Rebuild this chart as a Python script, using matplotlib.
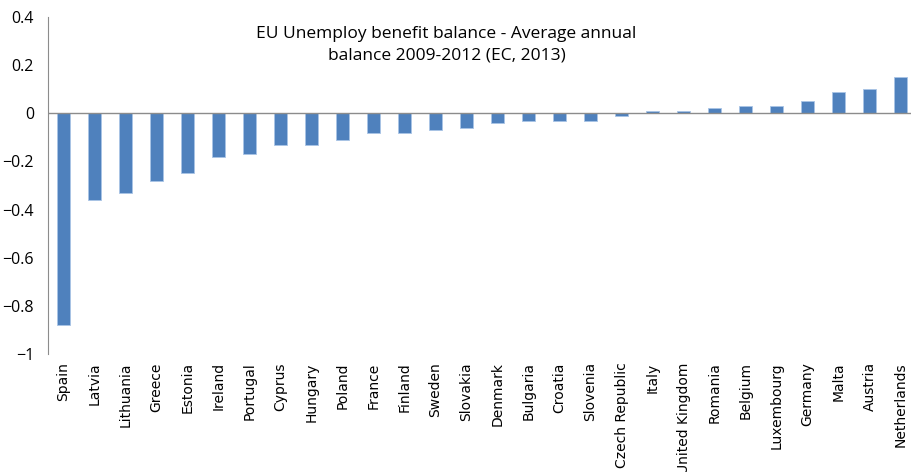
import matplotlib.pyplot as plt
import numpy as np

countries = ['Spain', 'Latvia', 'Lithuania', 'Greece', 'Estonia', 'Ireland', 'Portugal',
             'Cyprus', 'Hungary', 'Poland', 'France', 'Finland', 'Sweden', 'Slovakia',
             'Denmark', 'Bulgaria', 'Croatia', 'Slovenia', 'Czech Republic', 'Italy',
             'United Kingdom', 'Romania', 'Belgium', 'Luxembourg', 'Germany', 'Malta',
             'Austria', 'Netherlands']
balance = [-0.88, -0.36, -0.33, -0.28, -0.25, -0.18, -0.17, -0.13, -0.13, -0.11,
           -0.08, -0.08, -0.07, -0.06, -0.04, -0.03, -0.03, -0.03, -0.01, 0.01,
           0.01, 0.02, 0.03, 0.03, 0.05, 0.09, 0.10, 0.15]
yticks = [0.4, 0.2, 0, -0.2, -0.4, -0.6, -0.8, -1]
ytick_labels = ['0.4', '0.2', '0', '\u22120.2', '\u22120.4', '\u22120.6', '\u22120.8', '\u22121']

plt.rcParams['font.family'] = ['Open Sans', 'DejaVu Sans']

fig = plt.figure(figsize=(9.11, 4.72), dpi=100)
ax = fig.add_axes([0.0527, 0.25, 0.953, 0.714])

x = np.arange(len(countries))
ax.bar(x, balance, width=0.4, color='#4f81bd', edgecolor='#a9c4e6', linewidth=0.6, zorder=2)
ax.axhline(0, color='#8c8c8c', linewidth=1, zorder=3)

ax.set_xlim(-0.5, len(countries) - 0.5)
ax.set_ylim(-1, 0.4)
ax.set_yticks(yticks)
ax.set_yticklabels(ytick_labels, fontsize=11.5)
ax.tick_params(axis='y', length=0, pad=10)
ax.set_xticks(x)
ax.set_xticklabels(countries, rotation=90, fontsize=10, va='top', family='DejaVu Sans')
ax.tick_params(axis='x', length=0, pad=6)

for s in ['top', 'right', 'bottom']:
    ax.spines[s].set_visible(False)
ax.spines['left'].set_color('#8c8c8c')

fig.text(0.49, 0.905, 'EU Unemploy benefit balance - Average annual\nbalance 2009-2012 (EC, 2013)',
         ha='center', va='center', fontsize=12.5, linespacing=1.45)

fig.savefig('out.png', dpi=100)
